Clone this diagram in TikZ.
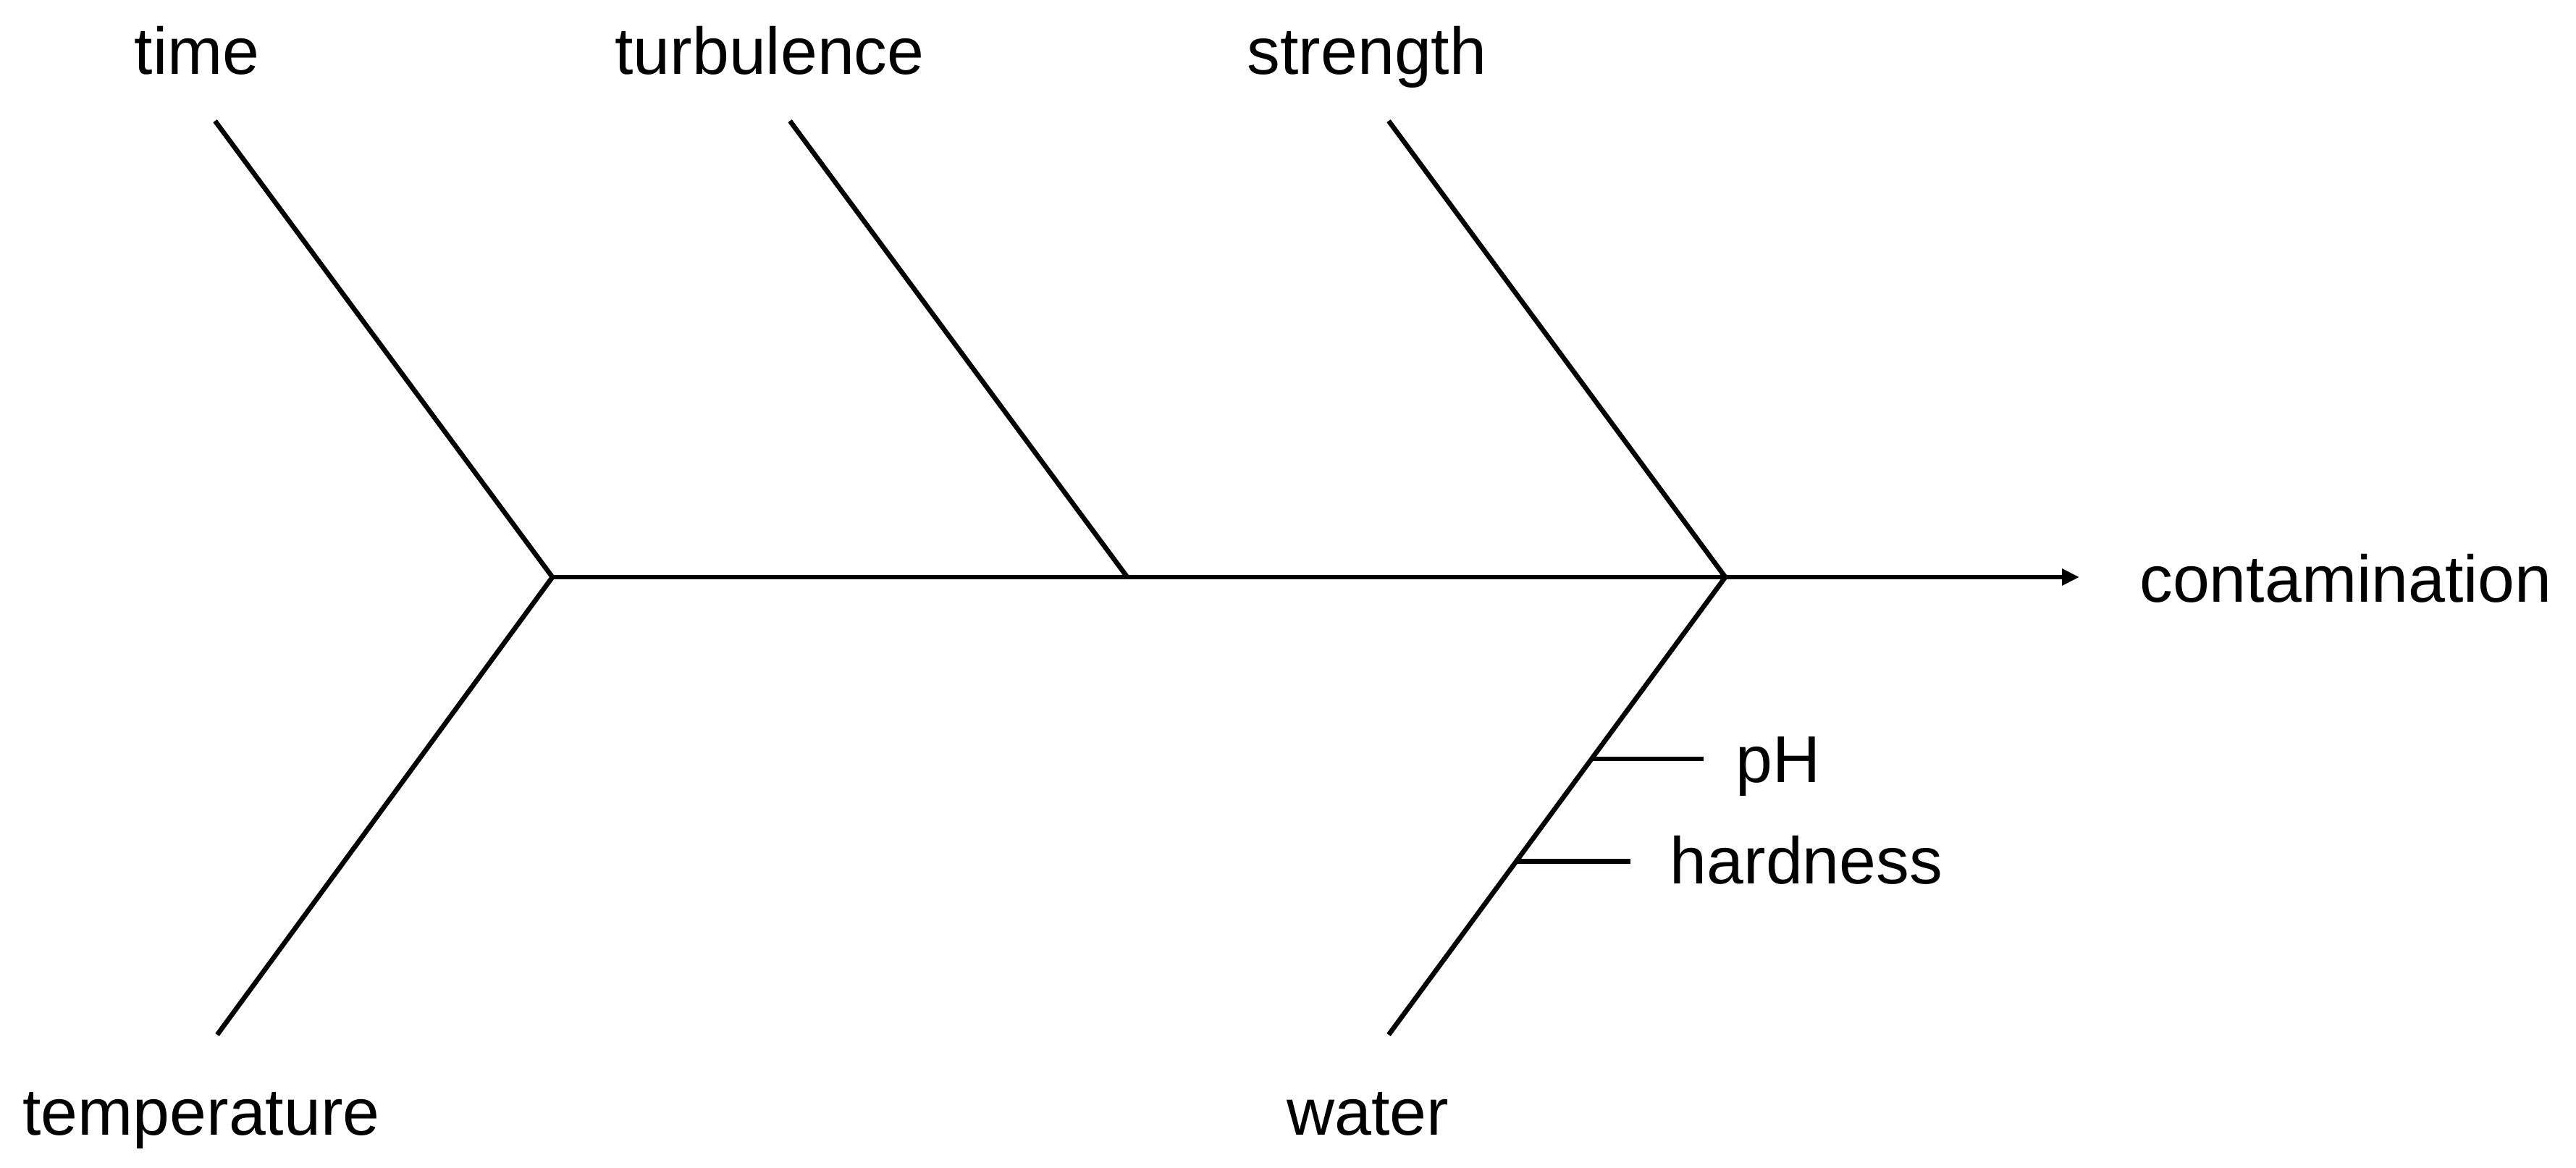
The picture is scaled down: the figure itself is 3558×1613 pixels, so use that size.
\documentclass[tikz,border=0pt]{standalone}
\usepackage{fontspec}
\setmainfont{Liberation Sans}
\usetikzlibrary{arrows.meta,calc}
\begin{document}
\begin{tikzpicture}[x=0.01cm,y=-0.01cm,
  bone/.style={line width=1.9pt, line join=miter, line cap=butt},
  lbl/.style={inner sep=0pt, anchor=base, font=\fontsize{26pt}{31pt}\selectfont}]
\useasboundingbox (0,0) rectangle (3558,1613);
% joints and ends
\coordinate (J1) at (763,797);
\coordinate (J2) at (1557,797);
\coordinate (J3) at (2383,797);
\coordinate (tip) at (2872,797);
\coordinate (timeE) at (297,167);
\coordinate (turbE) at (1091,167);
\coordinate (strE) at (1918,167);
\coordinate (tempE) at (300,1429);
\coordinate (watE) at (1918,1429);
% labels
\node[lbl] (time) at (272,103) {time};
\node[lbl] (turb) at (1063,103) {turbulence};
\node[lbl] (str) at (1888,103) {strength};
\node[lbl] (temp) at (278,1567) {temperature};
\node[lbl] (wat) at (1889,1567) {water};
\node[lbl] (cont) at (3240,832) {contamination};
\node[lbl] (ph) at (2456,1080) {pH};
\node[lbl] (hard) at (2495,1220) {hardness};
% bones
\draw[bone] (timeE) -- (J1) -- (tempE);
\draw[bone] (turbE) -- (J2);
\draw[bone] (strE) -- (J3) -- (watE);
\draw[bone, -{Triangle[length=0.24cm,width=0.22cm]}] (J1) -- (tip);
% sub-causes on water
\coordinate (phA) at ($(J3)!0.397!(watE)$);
\coordinate (phB) at (2353,1047);
\coordinate (hdA) at ($(J3)!0.621!(watE)$);
\coordinate (hdB) at (2252,1188);
\draw[bone] (phA) -- (phA -| phB);
\draw[bone] (hdA) -- (hdA -| hdB);
\end{tikzpicture}
\end{document}
